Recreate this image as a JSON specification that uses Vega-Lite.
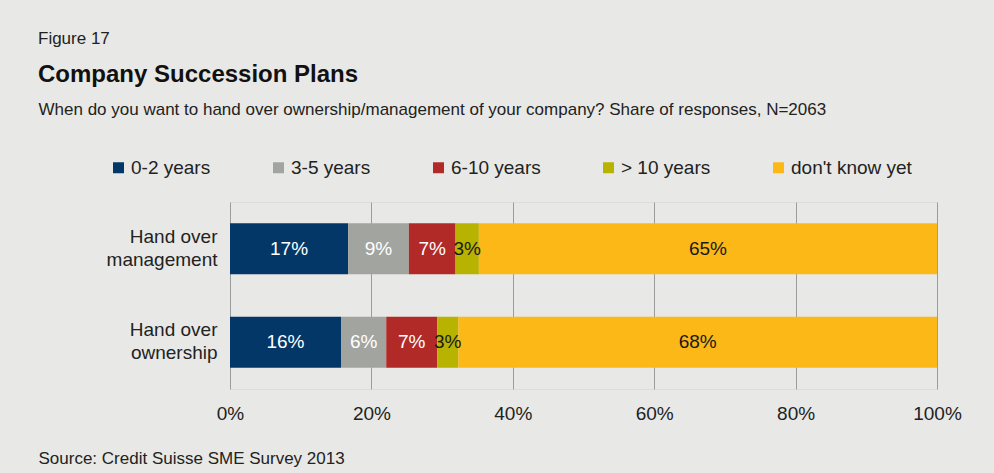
{
  "$schema": "https://vega.github.io/schema/vega-lite/v6.json",
  "background": "#e8e9e6",
  "padding": {"left": 38, "top": 30, "right": 37, "bottom": 8},
  "width": 707,
  "height": 187,
  "title": {
    "text": "Figure 17",
    "subtitle": "Company Succession Plans",
    "anchor": "start",
    "frame": "bounds",
    "fontSize": 17,
    "fontWeight": "normal",
    "color": "#222222",
    "subtitleFontSize": 24,
    "subtitleFontWeight": "bold",
    "subtitleColor": "#111111",
    "subtitlePadding": 15,
    "offset": 12
  },
  "data": {
    "values": [
      {"q": "Hand over management", "cat": "0-2 years", "ord": 1, "v": 0.167},
      {"q": "Hand over management", "cat": "3-5 years", "ord": 2, "v": 0.086},
      {"q": "Hand over management", "cat": "6-10 years", "ord": 3, "v": 0.066},
      {"q": "Hand over management", "cat": "> 10 years", "ord": 4, "v": 0.033},
      {"q": "Hand over management", "cat": "don't know yet", "ord": 5, "v": 0.648},
      {"q": "Hand over ownership", "cat": "0-2 years", "ord": 1, "v": 0.157},
      {"q": "Hand over ownership", "cat": "3-5 years", "ord": 2, "v": 0.064},
      {"q": "Hand over ownership", "cat": "6-10 years", "ord": 3, "v": 0.072},
      {"q": "Hand over ownership", "cat": "> 10 years", "ord": 4, "v": 0.030},
      {"q": "Hand over ownership", "cat": "don't know yet", "ord": 5, "v": 0.677}
    ]
  },
  "encoding": {
    "y": {
      "field": "q",
      "type": "nominal",
      "sort": ["Hand over management", "Hand over ownership"],
      "scale": {"paddingInner": 0.455, "paddingOuter": 0.2275},
      "axis": {
        "title": "When do you want to hand over ownership/management of your company? Share of responses, N=2063",
        "titleAngle": 0,
        "titleAlign": "left",
        "titleBaseline": "alphabetic",
        "titleX": -192,
        "titleY": -88,
        "titleFontSize": 17,
        "titleFontWeight": "normal",
        "titleColor": "#222222",
        "labelExpr": "datum.value == 'Hand over management' ? ['Hand over', 'management'] : ['Hand over', 'ownership']",
        "labelFontSize": 19,
        "labelLineHeight": 23,
        "labelColor": "#222222",
        "labelPadding": 13,
        "labelOffset": -12,
        "ticks": false,
        "domain": false,
        "labelLimit": 300
      }
    }
  },
  "layer": [
    {
      "mark": {"type": "bar"},
      "encoding": {
        "x": {
          "field": "v",
          "type": "quantitative",
          "stack": "zero",
          "scale": {"domain": [0, 1]},
          "axis": {
            "format": ".0%",
            "values": [0, 0.2, 0.4, 0.6, 0.8, 1],
            "grid": true,
            "gridColor": "#9c9c9c",
            "gridWidth": 1,
            "ticks": false,
            "domain": false,
            "labelFlush": false,
            "labelFontSize": 19,
            "labelColor": "#222222",
            "labelPadding": 15,
            "title": "Source: Credit Suisse SME Survey 2013",
            "titleX": -192,
            "titleY": 74,
            "titleAlign": "left",
            "titleBaseline": "alphabetic",
            "titleFontSize": 17,
            "titleFontWeight": "normal",
            "titleColor": "#222222"
          }
        },
        "order": {"field": "ord", "type": "quantitative", "sort": "ascending"},
        "color": {
          "field": "cat",
          "type": "nominal",
          "scale": {
            "domain": ["0-2 years", "3-5 years", "6-10 years", "> 10 years", "don't know yet"],
            "range": ["#033767", "#a2a59f", "#b12a27", "#b8b200", "#fbb817"]
          },
          "legend": {
            "orient": "none",
            "legendX": -121,
            "legendY": -44,
            "direction": "horizontal",
            "title": null,
            "symbolType": "square",
            "symbolSize": 121,
            "symbolStrokeWidth": 0,
            "labelFontSize": 19,
            "labelColor": "#222222",
            "labelOffset": 3,
            "columnPadding": 58,
            "labelLimit": 300
          }
        }
      }
    },
    {
      "mark": {"type": "text", "fontSize": 19},
      "encoding": {
        "x": {"field": "v", "type": "quantitative", "stack": "zero", "bandPosition": 0.5},
        "order": {"field": "ord", "type": "quantitative", "sort": "ascending"},
        "detail": {"field": "cat", "type": "nominal"},
        "text": {"field": "v", "type": "quantitative", "format": ".0%"},
        "color": {
          "condition": {"test": "datum.ord >= 4", "value": "#1a1a1a"},
          "value": "#ffffff"
        }
      }
    }
  ]
}
